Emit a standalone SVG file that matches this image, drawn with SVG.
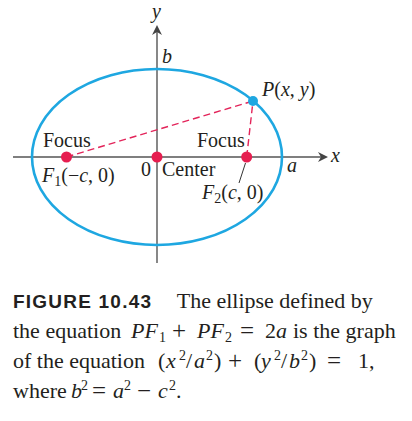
<svg xmlns="http://www.w3.org/2000/svg" width="412" height="421" viewBox="0 0 412 421">
<defs>
<style>
.ax{stroke:#555;stroke-width:1.4;fill:none}
.arr{fill:#444}
.ell{fill:none;stroke:#1ea7e1;stroke-width:2.6}
.dash{stroke:#e3245a;stroke-width:1.4;stroke-dasharray:7 4;fill:none}
.dot{fill:#e61e50}
.pdot{fill:#1ea7e1}
.lbl{font-family:"Liberation Serif","Times New Roman",serif;font-size:20px;fill:#231f20}
.cap{font-family:"Liberation Serif","Times New Roman",serif;font-size:22px;fill:#231f20}
.op{font-family:"Liberation Serif","Times New Roman",serif;font-size:25px;fill:#231f20}
.sup{font-family:"Liberation Serif","Times New Roman",serif;font-size:14px;fill:#231f20}
.it{font-style:italic}
.fig{font-family:"Liberation Sans",Arial,sans-serif;font-weight:bold;font-size:19px;fill:#231f20}
</style>
</defs>
<rect width="412" height="421" fill="#fff"/>
<g id="axes">
<line class="ax" x1="13" y1="157" x2="323" y2="157"/>
<path class="arr" d="M328,157 L318,152 L321,157 L318,162 Z"/>
<line class="ax" x1="157" y1="263" x2="157" y2="30"/>
<path class="arr" d="M157,25 L152,35 L157,32 L162,35 Z"/>
</g>
<g id="ellipse">
<ellipse class="ell" cx="157" cy="157" rx="125" ry="88"/>
</g>
<g id="connectors">
<line class="dash" x1="66.5" y1="157" x2="253" y2="101"/>
<line class="dash" x1="246.7" y1="157" x2="253" y2="101"/>
<line x1="245.5" y1="163" x2="239" y2="183" stroke="#333" stroke-width="1"/>
</g>
<g id="focus1">
<circle class="dot" cx="66.5" cy="157" r="5.5"/>
<text class="lbl" x="43" y="147">Focus</text>
<text class="lbl" x="42" y="182"><tspan class="it">F</tspan><tspan font-size="14" dy="4">1</tspan><tspan dy="-4">(−</tspan><tspan class="it">c</tspan>, 0)</text>
</g>
<g id="center">
<circle class="dot" cx="157" cy="157" r="5.5"/>
<text class="lbl" x="141" y="176">0</text>
<text class="lbl" x="162" y="176">Center</text>
</g>
<g id="focus2">
<circle class="dot" cx="246.7" cy="157" r="5.5"/>
<text class="lbl" x="197" y="147">Focus</text>
<text class="lbl" x="202" y="199"><tspan class="it">F</tspan><tspan font-size="14" dy="4">2</tspan><tspan dy="-4">(</tspan><tspan class="it">c</tspan>, 0)</text>
</g>
<g id="point-p">
<circle class="pdot" cx="253" cy="101" r="5"/>
<text class="lbl" x="262" y="96"><tspan class="it">P</tspan>(<tspan class="it">x</tspan>, <tspan class="it">y</tspan>)</text>
</g>
<g id="axis-labels">
<text class="lbl it" x="152" y="18">y</text>
<text class="lbl it" x="162" y="63">b</text>
<text class="lbl it" x="287" y="172">a</text>
<text class="lbl it" x="331" y="162">x</text>
</g>
<g id="caption">
<text class="fig" x="13" y="308" textLength="138" lengthAdjust="spacing">FIGURE 10.43</text>
<text class="cap" x="176.7" y="308">The ellipse defined by</text>
<text class="cap" x="13" y="338">the equation</text>
<text class="cap it" x="131" y="338">PF</text>
<text class="sup" x="159" y="342">1</text>
<text class="op" x="172" y="339">+</text>
<text class="cap it" x="197" y="338">PF</text>
<text class="sup" x="225" y="342">2</text>
<text class="op" x="240" y="339">=</text>
<text class="cap" x="265" y="338">2<tspan class="it">a</tspan></text>
<text class="cap" x="293" y="338">is the graph</text>
<text class="cap" x="13" y="368">of the equation</text>
<text class="cap" x="158" y="368">(</text>
<text class="cap it" x="166" y="368">x</text>
<text class="sup" x="179" y="360">2</text>
<text class="cap" x="186" y="368">/</text>
<text class="cap it" x="194" y="368">a</text>
<text class="sup" x="206" y="360">2</text>
<text class="cap" x="214" y="368">)</text>
<text class="op" x="228" y="369">+</text>
<text class="cap" x="254" y="368">(</text>
<text class="cap it" x="261" y="368">y</text>
<text class="sup" x="274" y="360">2</text>
<text class="cap" x="281" y="368">/</text>
<text class="cap it" x="289" y="368">b</text>
<text class="sup" x="301" y="360">2</text>
<text class="cap" x="309" y="368">)</text>
<text class="op" x="327" y="369">=</text>
<text class="cap" x="358" y="368">1,</text>
<text class="cap" x="13" y="398">where</text>
<text class="cap it" x="71" y="398">b</text>
<text class="sup" x="81" y="390">2</text>
<text class="op" x="92" y="399">=</text>
<text class="cap it" x="113" y="398">a</text>
<text class="sup" x="124" y="390">2</text>
<text class="op" x="137" y="399">−</text>
<text class="cap it" x="158" y="398">c</text>
<text class="sup" x="169" y="390">2</text>
<text class="cap" x="176" y="398">.</text>
</g>
</svg>
